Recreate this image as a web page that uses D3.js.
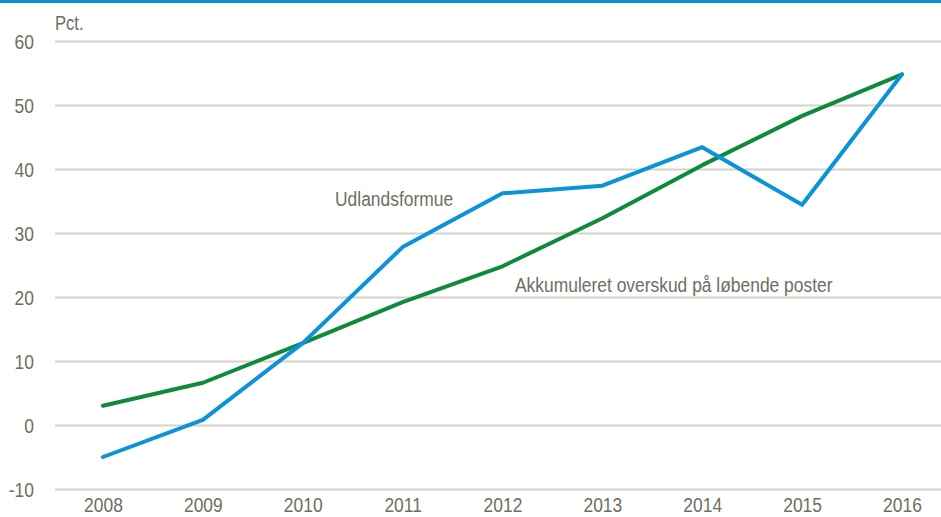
<!DOCTYPE html>
<html>
<head>
<meta charset="utf-8">
<script src="https://cdn.jsdelivr.net/npm/d3@7"></script>
<style>
  body { margin: 0; background: #fff; }
  svg text { font-family: "Liberation Sans Narrow", "Arial Narrow", "Liberation Sans", sans-serif; fill: #6e6e62; }
</style>
</head>
<body>
<script>
/**Data */
const years = ["2008", "2009", "2010", "2011", "2012", "2013", "2014", "2015", "2016"];
const udlandsformue = [-5.0, 0.8, 12.8, 27.8, 36.2, 37.4, 43.4, 34.4, 54.8];
const overskud = [3.0, 6.6, 12.8, 19.2, 24.8, 32.3, 40.6, 48.3, 54.8];
const yTicks = [-10, 0, 10, 20, 30, 40, 50, 60];

const width = 941;
const height = 517;
const squeeze = 0.83; // no narrow font installed, so squeeze text horizontally

const svg = d3.select("body").append("svg")
  .attr("width", width)
  .attr("height", height);

// top rule
svg.append("rect")
  .attr("x", 0).attr("y", 0)
  .attr("width", width).attr("height", 3)
  .attr("fill", "#0a8fd3");

const x = d3.scalePoint().domain(years).range([103, 902]);
const y = d3.scaleLinear().domain([-10, 60]).range([489, 41]);

// gridlines + y labels
const yAxis = d3.axisLeft(y)
  .tickValues(yTicks)
  .tickFormat(d => String(d))
  .tickSize(-(width - 55))
  .tickPadding(21 / squeeze);
const gy = svg.append("g").attr("transform", "translate(55,0)").call(yAxis);
gy.select(".domain").remove();
gy.selectAll(".tick line").attr("stroke", "#d3d2cb").attr("stroke-width", 2);
gy.selectAll(".tick text")
  .attr("font-size", 21)
  .attr("dy", "0.36em")
  .attr("transform", "scale(" + squeeze + ",1)");

function label(px, py, size, str) {
  svg.append("text")
    .attr("transform", "translate(" + px + "," + py + ") scale(" + squeeze + ",1)")
    .attr("font-size", size)
    .text(str);
}

label(55, 30, 20, "Pct.");

// x labels
const xAxis = d3.axisBottom(x).tickSize(0).tickPadding(0);
const gx = svg.append("g").attr("transform", "translate(0,512)").call(xAxis);
gx.select(".domain").remove();
gx.selectAll(".tick text")
  .attr("font-size", 21)
  .attr("y", 0)
  .attr("dy", 0)
  .attr("transform", "scale(" + squeeze + ",1)");

// lines
const line = d3.line()
  .x((d, i) => x(years[i]))
  .y(d => y(d));

svg.append("path")
  .datum(overskud)
  .attr("d", line)
  .attr("fill", "none")
  .attr("stroke", "#0f8a3c")
  .attr("stroke-width", 4)
  .attr("stroke-linejoin", "round")
  .attr("stroke-linecap", "round");

svg.append("path")
  .datum(udlandsformue)
  .attr("d", line)
  .attr("fill", "none")
  .attr("stroke", "#0a93d8")
  .attr("stroke-width", 4)
  .attr("stroke-linejoin", "round")
  .attr("stroke-linecap", "round");

// series labels
label(335, 206, 21, "Udlandsformue");
label(515, 292, 21, "Akkumuleret overskud på løbende poster");
</script>
</body>
</html>
